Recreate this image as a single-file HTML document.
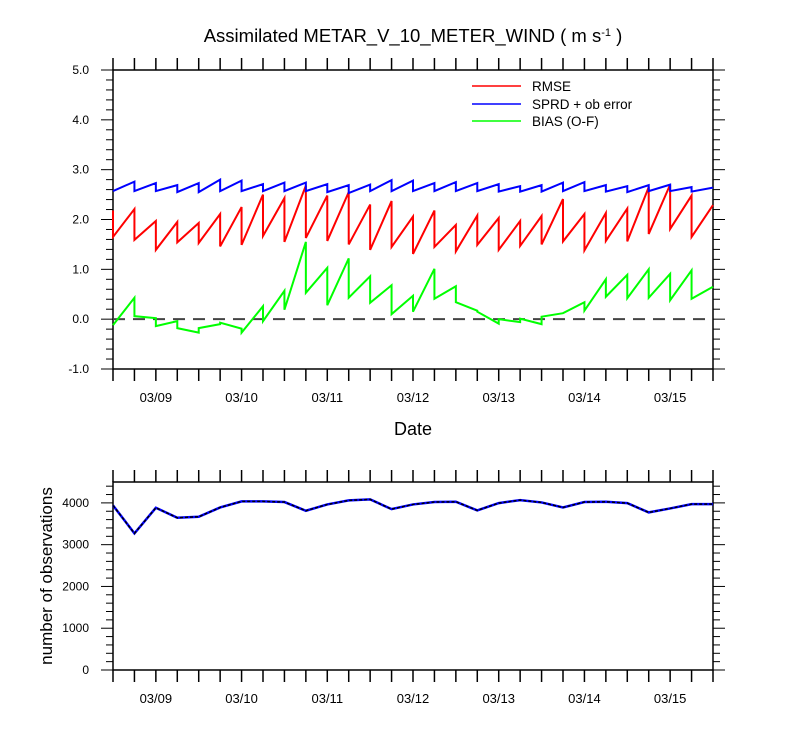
<!DOCTYPE html>
<html><head><meta charset="utf-8">
<style>
html,body{margin:0;padding:0;background:#fff;}
svg{display:block;font-family:"Liberation Sans",Arial,sans-serif;}
</style></head>
<body>
<svg id="chart" width="800" height="750" viewBox="0 0 800 750" xmlns="http://www.w3.org/2000/svg">
<text x="413" y="42" font-size="18.5" text-anchor="middle">Assimilated METAR_V_10_METER_WIND ( m s<tspan font-size="11" dy="-6">-1</tspan><tspan dy="6"> )</tspan></text>
<g id="topPanel"></g>
<g id="botPanel"></g>
<text x="413" y="435" font-size="18" text-anchor="middle">Date</text>
<text transform="translate(52,576) rotate(-90)" font-size="17" text-anchor="middle">number of observations</text>
<g>
<line x1="472" y1="86" x2="521" y2="86" stroke="#ff0000" stroke-width="1.5"/>
<text x="532" y="91" font-size="13.5">RMSE</text>
<line x1="472" y1="104" x2="521" y2="104" stroke="#0000ff" stroke-width="1.5"/>
<text x="532" y="109" font-size="13.5">SPRD + ob error</text>
<line x1="472" y1="121" x2="521" y2="121" stroke="#00ff00" stroke-width="1.5"/>
<text x="532" y="126" font-size="13.5">BIAS (O-F)</text>
</g>
</svg>
<script>
const dayLabels = ["03/09","03/10","03/11","03/12","03/13","03/14","03/15"];
const rmseF = [2.18,2.21,1.97,1.95,1.93,2.11,2.25,2.50,2.43,2.68,2.48,2.55,2.30,2.37,2.06,2.18,1.89,2.08,2.03,1.97,2.07,2.41,2.11,2.13,2.22,2.65,2.70,2.48,2.29];
const rmseA = [1.65,1.59,1.39,1.54,1.53,1.46,1.49,1.67,1.55,1.63,1.57,1.50,1.39,1.45,1.31,1.45,1.36,1.49,1.39,1.47,1.50,1.56,1.38,1.57,1.56,1.71,1.81,1.65,2.29];
const sprdF = [2.57,2.76,2.73,2.69,2.73,2.80,2.78,2.71,2.74,2.74,2.71,2.69,2.70,2.79,2.78,2.73,2.75,2.73,2.71,2.67,2.69,2.74,2.75,2.69,2.67,2.69,2.70,2.65,2.64];
const sprdA = [2.57,2.57,2.57,2.55,2.55,2.57,2.57,2.57,2.57,2.57,2.55,2.53,2.57,2.57,2.57,2.57,2.57,2.57,2.56,2.56,2.56,2.57,2.57,2.56,2.55,2.57,2.57,2.56,2.64];
const biasF = [-0.12,0.43,0.02,-0.04,-0.27,-0.10,-0.19,0.26,0.57,1.55,1.03,1.22,0.86,0.68,0.47,1.01,0.66,0.17,-0.09,-0.06,-0.10,0.12,0.34,0.80,0.89,1.00,0.91,0.98,0.65];
const biasA = [-0.12,0.06,-0.14,-0.18,-0.18,-0.07,-0.27,-0.04,0.19,0.53,0.28,0.43,0.33,0.10,0.15,0.41,0.34,0.15,0.00,0.01,0.05,0.12,0.17,0.45,0.42,0.43,0.38,0.41,0.65];
const nObs = [3940,3270,3883,3644,3668,3891,4035,4035,4020,3812,3963,4059,4083,3851,3963,4020,4027,3820,3995,4067,4011,3891,4020,4027,3995,3772,3867,3971,3971];
const topTicks = ["-1.0","0.0","1.0","2.0","3.0","4.0","5.0"];
const botTicks = ["0","1000","2000","3000","4000"];

const NS="http://www.w3.org/2000/svg";
const X0=113,X1=713,NT=28;
const xs=k=>X0+(X1-X0)*k/NT;
function mk(parent,tag,attrs){const e=document.createElementNS(NS,tag);for(const a in attrs)e.setAttribute(a,attrs[a]);parent.appendChild(e);return e;}

function frame(g,y0,y1,ymin,ymax,minorStep,majors,labelX){
  const ys=v=>y1-(v-ymin)/(ymax-ymin)*(y1-y0);
  for(let k=0;k<=NT;k++){
    const x=xs(k);
    let t=mk(g,'line',{x1:x,y1:y0,x2:x,y2:y0-12,stroke:'#000','stroke-width':1.5});
    
    
    t=mk(g,'line',{x1:x,y1:y1,x2:x,y2:y1+12,stroke:'#000','stroke-width':1.5});
    
    
  }
  dayLabels.forEach((d,i)=>{
    const t=mk(g,'text',{x:xs(2+4*i),y:y1+33,'font-size':13,'text-anchor':'middle'});
    t.textContent=d;
    
    
  });
  const n=Math.round((ymax-ymin)/minorStep);
  for(let i=0;i<=n;i++){
    const v=ymin+i*minorStep;
    if(v>ymax+1e-6) break;
    const y=ys(v);
    const isMaj=majors.some(m=>Math.abs(parseFloat(m)-v)<1e-6);
    const L=isMaj?12:7;
    let t=mk(g,'line',{x1:X0-L,y1:y,x2:X0,y2:y,stroke:'#000','stroke-width':1});
    
    
    t=mk(g,'line',{x1:X1,y1:y,x2:X1+L,y2:y,stroke:'#000','stroke-width':1});
    
    
  }
  majors.forEach(m=>{
    const t=mk(g,'text',{x:labelX,y:ys(parseFloat(m))+4,'font-size':12,'text-anchor':'end'});
    t.textContent=m;
    
    
  });
  const r=mk(g,'rect',{x:X0,y:y0,width:X1-X0,height:y1-y0,fill:'none',stroke:'#000','stroke-width':1.5});
  
  
  return ys;
}

const topG=document.getElementById('topPanel');
const ysT=frame(topG,70,369,-1,5,0.2,topTicks,89);
const zl=mk(topG,'line',{x1:X0,y1:ysT(0),x2:X1,y2:ysT(0),stroke:'#444','stroke-width':2,'stroke-dasharray':'12,8'});



function saw(F,A){
  const pts=[];
  for(let k=0;k<=NT;k++){pts.push(xs(k)+','+ysT(F[k]));pts.push(xs(k)+','+ysT(A[k]));}
  return pts.join(' ');
}
let pl=mk(topG,'polyline',{points:saw(biasF,biasA),fill:'none',stroke:'#00ff00','stroke-width':2});


pl=mk(topG,'polyline',{points:saw(rmseF,rmseA),fill:'none',stroke:'#ff0000','stroke-width':2});


pl=mk(topG,'polyline',{points:saw(sprdF,sprdA),fill:'none',stroke:'#0000ff','stroke-width':2});



const botG=document.getElementById('botPanel');
const ysB=frame(botG,482,670,0,4500,200,botTicks,89);
const obsPts=nObs.map((v,k)=>xs(k)+','+ysB(v)).join(' ');
pl=mk(botG,'polyline',{points:obsPts,fill:'none',stroke:'#0000ff','stroke-width':2.5});


pl=mk(botG,'polyline',{points:obsPts,fill:'none',stroke:'#000','stroke-width':1.5,'stroke-dasharray':'3,2'});


</script>
</body></html>
